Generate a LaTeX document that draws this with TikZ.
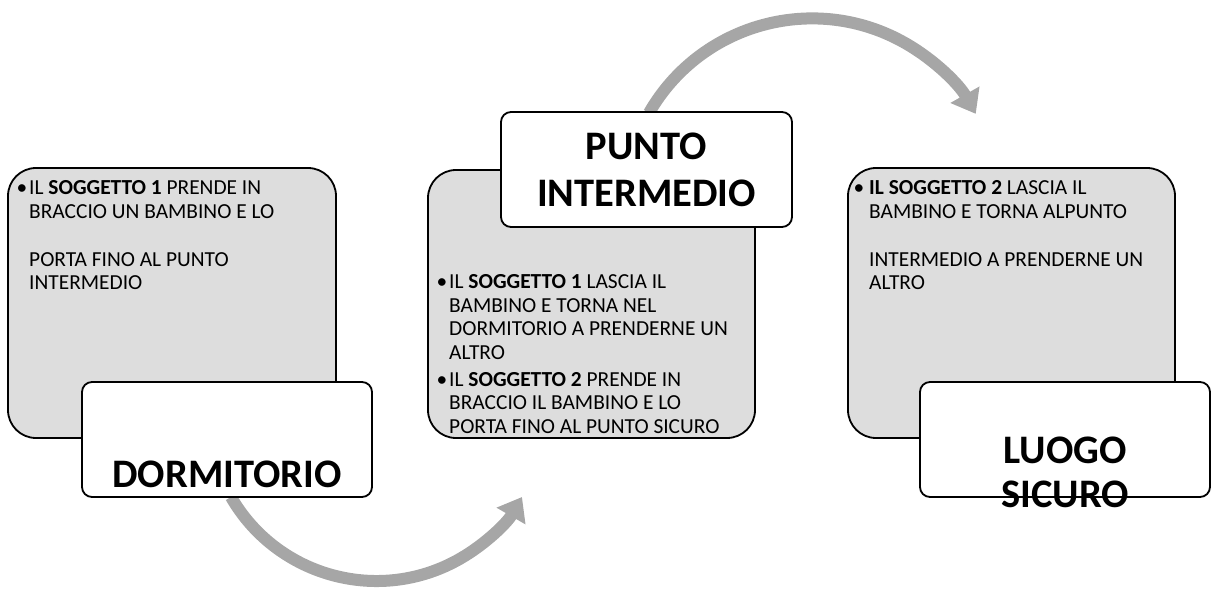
\documentclass[tikz,border=0pt]{standalone}
\usepackage{fontspec}
\setmainfont{Carlito}
\usetikzlibrary{arrows.meta}
\definecolor{boxgray}{HTML}{DDDDDD}
\definecolor{arrowgray}{HTML}{A6A6A6}
\tikzset{
  graybox/.style={draw=black, line width=1.8pt, fill=boxgray, rounded corners=28pt, inner sep=0pt},
  whitebox/.style={draw=black, line width=1.8pt, fill=white, rounded corners=10pt, inner sep=0pt},
  flowarrow/.style={draw=arrowgray, line width=12pt, -{Triangle[width=32pt,length=22pt]}},
  bodytext/.style={inner sep=0pt, anchor=base west, align=left, font=\fontsize{21.4}{23.5}\selectfont},
  titletext/.style={inner sep=0pt, anchor=base, align=center, font=\fontsize{40.5}{46}\selectfont\bfseries},
}
\begin{document}
\begin{tikzpicture}[x=1pt,y=1pt]
\useasboundingbox (0,0) rectangle (1211,590);
% arrows (behind boxes)
\coordinate (a1s) at (231,93);
\coordinate (a2s) at (649,477);
\draw[flowarrow] (a1s) arc[start angle=210, end angle=330, radius=168];
\draw[flowarrow] (a2s) arc[start angle=150.2, end angle=29.5, radius=188];
% left
\node[graybox, minimum width=328pt, minimum height=270pt] (g1) at (172,287) {};
\node[bodytext] (t1) at (29,300) {\llap{•\kern2pt}IL \textbf{SOGGETTO 1} PRENDE IN\\ BRACCIO UN BAMBINO E LO\\[24.5pt] PORTA FINO AL PUNTO\\ INTERMEDIO};
\node[whitebox, minimum width=290pt, minimum height=115pt] (w1) at (227,150.5) {};
\node[titletext] (h1) at (227,103) {DORMITORIO};
% middle
\node[graybox, minimum width=327pt, minimum height=268pt] (g2) at (591.5,286) {};
\node[bodytext] (t2) at (449,157) {\llap{•\kern2pt}IL \textbf{SOGGETTO 1} LASCIA IL\\ BAMBINO E TORNA NEL\\ DORMITORIO A PRENDERNE UN\\ ALTRO\\[3.5pt] \llap{•\kern2pt}IL \textbf{SOGGETTO 2} PRENDE IN\\ BRACCIO IL BAMBINO E LO\\ PORTA FINO AL PUNTO SICURO};
\node[whitebox, minimum width=291pt, minimum height=115pt] (w2) at (646.5,420.5) {};
\node[titletext] (h2) at (646.5,383) {PUNTO\\[1pt] INTERMEDIO};
% right
\node[graybox, minimum width=327pt, minimum height=270pt] (g3) at (1011.5,287) {};
\node[bodytext] (t3) at (869,300) {\llap{•\kern5pt}\textbf{IL SOGGETTO 2} LASCIA IL\\ BAMBINO E TORNA ALPUNTO\\[24.5pt] INTERMEDIO A PRENDERNE UN\\ ALTRO};
\node[whitebox, minimum width=290pt, minimum height=115pt] (w3) at (1065,150.5) {};
\node[titletext] (h3) at (1065,83) {LUOGO\\[-2pt] SICURO};
\end{tikzpicture}
\end{document}
